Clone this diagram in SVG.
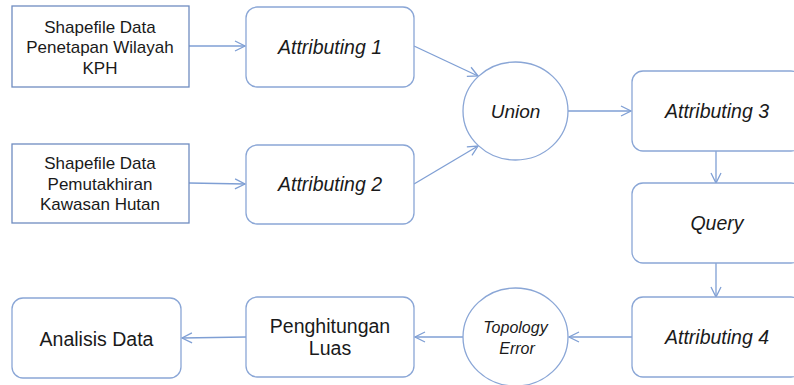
<svg xmlns="http://www.w3.org/2000/svg" width="794" height="385" viewBox="0 0 794 385">
<style>
.b{fill:#fff;stroke:#6f8cc0;stroke-width:1.3}
.r{fill:#fff;stroke:#8aa6d6;stroke-width:1.3}
.t{font-family:"Liberation Sans",Arial,sans-serif;fill:#1a1a1a;text-anchor:middle}
.i{font-style:italic}
.c line{stroke:#7f9fd4;stroke-width:1.3;marker-end:url(#a)}
</style>
<defs>
<marker id="a" markerUnits="userSpaceOnUse" markerWidth="14" markerHeight="14" refX="11" refY="6" orient="auto">
<path d="M1,1 L11,6 L1,11" fill="none" stroke="#7f9fd4" stroke-width="1.3"/>
</marker>
</defs>
<rect width="794" height="385" fill="#fff"/>
<g class="c">
<line x1="189" y1="46" x2="245" y2="46"/>
<line x1="189" y1="183" x2="245" y2="184"/>
<line x1="414" y1="46" x2="478" y2="76"/>
<line x1="414" y1="184" x2="478" y2="146"/>
<line x1="568" y1="111" x2="631" y2="111"/>
<line x1="716" y1="151" x2="716" y2="183"/>
<line x1="716" y1="263" x2="716" y2="297"/>
<line x1="632" y1="337" x2="569" y2="337"/>
<line x1="463" y1="337" x2="415" y2="337"/>
<line x1="246" y1="337" x2="182" y2="338"/>
</g>
<g id="shp1"><rect class="b" x="12" y="6" width="177" height="81"/>
<text class="t" font-size="17"><tspan x="100" y="33">Shapefile Data</tspan><tspan x="100" y="53">Penetapan Wilayah</tspan><tspan x="100" y="74">KPH</tspan></text></g>
<g id="shp2"><rect class="b" x="12" y="144" width="177" height="79"/>
<text class="t" font-size="17"><tspan x="100" y="169">Shapefile Data</tspan><tspan x="100" y="190">Pemutakhiran</tspan><tspan x="100" y="210">Kawasan Hutan</tspan></text></g>
<g id="attr1"><rect class="r" x="246" y="7" width="168" height="80" rx="11"/>
<text class="t i" x="330" y="54" font-size="19.5">Attributing 1</text></g>
<g id="attr2"><rect class="r" x="246" y="145" width="168" height="79" rx="11"/>
<text class="t i" x="330" y="191" font-size="19.5">Attributing 2</text></g>
<g id="union"><ellipse class="r" cx="515.5" cy="111" rx="52.5" ry="49"/>
<text class="t i" x="515.5" y="118" font-size="19">Union</text></g>
<g id="attr3"><rect class="r" x="632" y="71" width="170" height="80" rx="11"/>
<text class="t i" x="717" y="118" font-size="19.5">Attributing 3</text></g>
<g id="query"><rect class="r" x="632" y="183" width="170" height="80" rx="11"/>
<text class="t i" x="717" y="230" font-size="19.5">Query</text></g>
<g id="attr4"><rect class="r" x="632" y="297" width="170" height="80" rx="11"/>
<text class="t i" x="717" y="344" font-size="19.5">Attributing 4</text></g>
<g id="topo"><ellipse class="r" cx="515.5" cy="337" rx="52.5" ry="49"/>
<text class="t i" font-size="16"><tspan x="515.5" y="333">Topology</tspan><tspan x="517" y="354">Error</tspan></text></g>
<g id="luas"><rect class="r" x="246" y="297" width="168" height="80" rx="11"/>
<text class="t" font-size="19.5"><tspan x="330" y="333">Penghitungan</tspan><tspan x="330" y="355">Luas</tspan></text></g>
<g id="analisis"><rect class="r" x="12" y="298" width="169" height="80" rx="11"/>
<text class="t" x="96.5" y="346" font-size="19.5">Analisis Data</text></g>
</svg>
